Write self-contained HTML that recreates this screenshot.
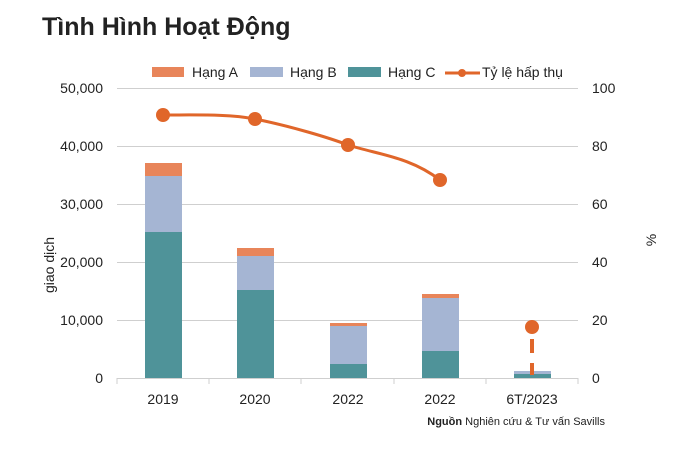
<!DOCTYPE html>
<html><head><meta charset="utf-8"><style>
body{margin:0;background:#fff;}
svg text{font-family:"Liberation Sans",sans-serif;fill:#222;}
</style></head><body>
<svg width="700" height="453" viewBox="0 0 700 453">
<text x="42" y="35" font-size="25" font-weight="bold" fill="#111">Tình Hình Hoạt Động</text>
<!-- legend -->
<rect x="152" y="67" width="32" height="10" fill="#e8855a"/><text x="192" y="77" font-size="14">Hạng A</text>
<rect x="250" y="67" width="33" height="10" fill="#a5b5d3"/><text x="290" y="77" font-size="14">Hạng B</text>
<rect x="348" y="67" width="33" height="10" fill="#4f9399"/><text x="388" y="77" font-size="14">Hạng C</text>
<line x1="445" y1="73" x2="480" y2="73" stroke="#e0662a" stroke-width="3"/><circle cx="462" cy="73" r="4" fill="#e0662a"/>
<text x="482" y="77" font-size="14">Tỷ lệ hấp thụ</text>
<!-- grid -->
<g stroke="#cfcfcf" stroke-width="1">
<line x1="117" y1="88.5" x2="578" y2="88.5"/><line x1="117" y1="146.5" x2="578" y2="146.5"/>
<line x1="117" y1="204.5" x2="578" y2="204.5"/><line x1="117" y1="262.5" x2="578" y2="262.5"/>
<line x1="117" y1="320.5" x2="578" y2="320.5"/><line x1="117" y1="378.5" x2="578" y2="378.5"/>
<line x1="117" y1="378" x2="117" y2="384"/><line x1="209" y1="378" x2="209" y2="384"/><line x1="301" y1="378" x2="301" y2="384"/><line x1="394" y1="378" x2="394" y2="384"/><line x1="486" y1="378" x2="486" y2="384"/><line x1="578" y1="378" x2="578" y2="384"/>
</g>
<g font-size="14" text-anchor="end">
<text x="103" y="93">50,000</text><text x="103" y="151">40,000</text><text x="103" y="209">30,000</text><text x="103" y="267">20,000</text><text x="103" y="325">10,000</text><text x="103" y="383">0</text>
</g>
<g font-size="14">
<text x="592" y="93">100</text><text x="592" y="151">80</text><text x="592" y="209">60</text><text x="592" y="267">40</text><text x="592" y="325">20</text><text x="592" y="383">0</text>
</g>
<text transform="translate(54,265) rotate(-90)" font-size="14" text-anchor="middle">giao dịch</text>
<text transform="translate(656,240) rotate(-90)" font-size="14" text-anchor="middle">%</text>
<!-- bars -->
<g>
<rect x="145" y="163" width="37" height="13" fill="#e8855a"/><rect x="145" y="176" width="37" height="56" fill="#a5b5d3"/><rect x="145" y="232" width="37" height="146" fill="#4f9399"/>
<rect x="237" y="248" width="37" height="8" fill="#e8855a"/><rect x="237" y="256" width="37" height="34" fill="#a5b5d3"/><rect x="237" y="290" width="37" height="88" fill="#4f9399"/>
<rect x="330" y="323" width="37" height="3" fill="#e8855a"/><rect x="330" y="326" width="37" height="38" fill="#a5b5d3"/><rect x="330" y="364" width="37" height="14" fill="#4f9399"/>
<rect x="422" y="294" width="37" height="4" fill="#e8855a"/><rect x="422" y="298" width="37" height="53" fill="#a5b5d3"/><rect x="422" y="351" width="37" height="27" fill="#4f9399"/>
<rect x="514" y="371" width="37" height="3" fill="#a5b5d3"/><rect x="514" y="374" width="37" height="4" fill="#4f9399"/>
</g>
<!-- line -->
<path d="M163,115 C200,115 230,114 255,119 C290,126 330,138 348,145 C380,155 410,157 440,180" fill="none" stroke="#e0662a" stroke-width="3"/>
<g fill="#e0662a"><circle cx="163" cy="115" r="7"/><circle cx="255" cy="119" r="7"/><circle cx="348" cy="145" r="7"/><circle cx="440" cy="180" r="7"/><circle cx="532" cy="327" r="7"/></g>
<line x1="532" y1="339" x2="532" y2="375" stroke="#e0662a" stroke-width="4" stroke-dasharray="14,10"/>
<g font-size="14" text-anchor="middle">
<text x="163" y="404">2019</text><text x="255" y="404">2020</text><text x="348" y="404">2022</text><text x="440" y="404">2022</text><text x="532" y="404">6T/2023</text>
</g>
<text x="605" y="425" font-size="11" text-anchor="end"><tspan font-weight="bold">Nguồn</tspan> Nghiên cứu &amp; Tư vấn Savills</text>
</svg>
</body></html>
